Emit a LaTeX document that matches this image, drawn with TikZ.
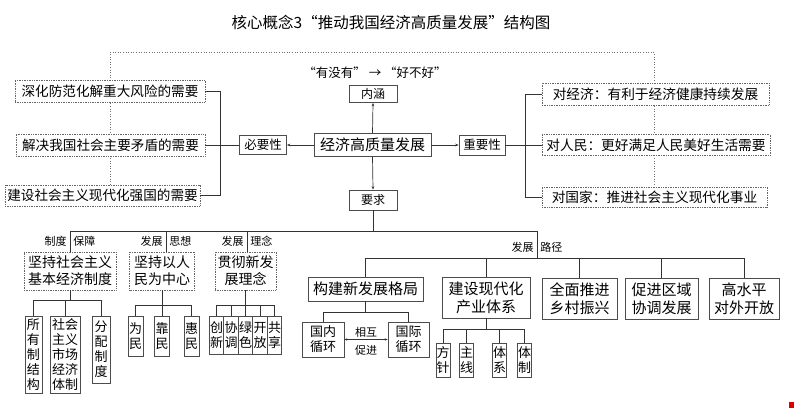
\documentclass[tikz,border=0pt]{standalone}
\usepackage{fontspec}
\setmainfont{Noto Sans CJK SC}
\usetikzlibrary{arrows.meta,backgrounds,calc}
\newcommand{\tsize}[2]{\fontsize{#1}{#2}\selectfont}
\tikzset{
  dbox/.style={draw=black!60,densely dotted,line width=0.7pt,fill=white,inner sep=0pt,align=center},
  sbox/.style={draw=black!70,line width=0.7pt,fill=white,inner sep=0pt,align=center},
  link/.style={draw=black!80,line width=0.7pt},
  arr/.style={link,-{Stealth[length=3.5pt,width=2.6pt]}},
  tag/.style={font=\tsize{11}{12},inner xsep=3pt,inner ysep=1.5pt},
  vtext/.style={font=\tsize{13}{15}},
}
\begin{document}
\begin{tikzpicture}[x=1pt,y=-1pt]
\useasboundingbox (0,0) rectangle (794,408);
\node[font=\tsize{15.5}{18}] (title) at (391,22) {核心概念3“推动我国经济高质量发展”结构图};
% centre
\node[sbox,font=\tsize{15}{18},minimum width=117pt,minimum height=23pt] (main) at (372.5,145) {经济高质量发展};
\node[font=\tsize{12.5}{14}] (change) at (375,73) {“有没有” → “好不好”};
\node[sbox,font=\tsize{12}{14},minimum width=48pt,minimum height=17pt] (neihan) at (373,94) {内涵};
\node[sbox,font=\tsize{12}{14},minimum width=48pt,minimum height=20pt] (yaoqiu) at (373,200) {要求};
\node[sbox,font=\tsize{12.5}{14},minimum width=47pt,minimum height=19pt] (biyao) at (263,145) {必要性};
\node[sbox,font=\tsize{12.5}{14},minimum width=46pt,minimum height=20pt] (zhongyao) at (482,145) {重要性};
% necessity
\node[dbox,font=\tsize{13.6}{16},minimum width=190pt,minimum height=22pt] (need1) at (110,91) {深化防范化解重大风险的需要};
\node[dbox,font=\tsize{13.6}{16},minimum width=189pt,minimum height=22pt] (need2) at (110.5,145) {解决我国社会主要矛盾的需要};
\node[dbox,font=\tsize{13.6}{16},minimum width=195pt,minimum height=21pt] (need3) at (102.5,195.5) {建设社会主义现代化强国的需要};
% importance
\node[dbox,font=\tsize{13.7}{16},minimum width=227pt,minimum height=22pt] (eco) at (655.5,94) {对经济：有利于经济健康持续发展};
\node[dbox,font=\tsize{13.7}{16},minimum width=228pt,minimum height=21pt] (ppl) at (656,145) {对人民：更好满足人民美好生活需要};
\node[dbox,font=\tsize{13.7}{16},minimum width=225pt,minimum height=20pt] (nat) at (654.5,197) {对国家：推进社会主义现代化事业};
\coordinate (lbrk) at (220,0);
\coordinate (rbrk) at (525,0);
\coordinate (dl) at (110,52);
\coordinate (dr) at (654,52);
\draw[link] (need1.east) -| (need3.east -| lbrk) -- (need3.east);
\draw[link] (need2.east) -- (biyao.west);
\draw[arr] (main.west) -- (biyao.east);
\draw[arr] (main.east) -- (zhongyao.west);
\draw[arr] (main.north) -- (neihan.south);
\draw[arr] (main.south) -- (yaoqiu.north);
\draw[link] (zhongyao.east) -- (ppl.west);
\draw[link] (eco.west) -| (nat.west -| rbrk) -- (nat.west);
\begin{scope}[on background layer]
\draw[black!55,dotted,line width=0.6pt] (need3.north -| dl) -- (dl) -- (dr) -- (nat.north -| dr);
\end{scope}
% requirements
\node[dbox,font=\tsize{14}{17},minimum width=92pt,minimum height=38pt] (sys) at (70,271) {坚持社会主义\\基本经济制度};
\node[dbox,font=\tsize{14}{17},minimum width=65pt,minimum height=38pt] (people) at (162,271) {坚持以人\\民为中心};
\node[dbox,font=\tsize{14}{17},minimum width=61pt,minimum height=38pt] (idea) at (245.5,271) {贯彻新发\\展理念};
\node[sbox,font=\tsize{15}{18},minimum width=115pt,minimum height=24pt] (pattern) at (365.5,289) {构建新发展格局};
\node[sbox,font=\tsize{15}{18},minimum width=88pt,minimum height=41pt] (industry) at (486,297.5) {建设现代化\\产业体系};
\node[sbox,font=\tsize{15}{18},minimum width=75pt,minimum height=41pt] (rural) at (579.5,298.5) {全面推进\\乡村振兴};
\node[sbox,font=\tsize{15}{18},minimum width=73pt,minimum height=41pt] (region) at (661.5,298.5) {促进区域\\协调发展};
\node[sbox,font=\tsize{15}{18},minimum width=70pt,minimum height=41pt] (open) at (744,298.5) {高水平\\对外开放};
\coordinate (bus) at (0,231);
\coordinate (bus2) at (0,258);
\coordinate (knee) at (537,231);
\draw[link] (yaoqiu.south) -- (yaoqiu.south |- bus);
\draw[link] (sys.north) -- (sys.north |- bus) node[tag,midway,left]{制度} node[tag,midway,right]{保障}
  -- (knee) -- (knee |- bus2) node[tag,pos=0.6,left]{发展} node[tag,pos=0.6,right]{路径};
\draw[link] ($(people.north)+(4,0)$) -- ++(0,-21) node[tag,midway,left]{发展} node[tag,midway,right]{思想};
\draw[link] ($(idea.north)+(1.5,0)$) -- ++(0,-21) node[tag,midway,left]{发展} node[tag,midway,right]{理念};
\draw[link] (pattern.north) |- (open.north |- bus2) -- (open.north);
\draw[link] (industry.north) -- (industry.north |- bus2);
\draw[link] (rural.north) -- (rural.north |- bus2);
\draw[link] (region.north) -- (region.north |- bus2);
% leaves
\node[sbox,vtext,minimum width=17pt,minimum height=77pt] (own) at (33.5,354.5) {所\\有\\制\\结\\构};
\node[sbox,vtext,minimum width=30pt,minimum height=77pt] (market) at (65,354.5) {社会\\主义\\市场\\经济\\体制};
\node[sbox,vtext,minimum width=18pt,minimum height=67pt] (distr) at (101,349.5) {分\\配\\制\\度};
\foreach \n/\x/\a/\b in {1/135.5/为/民,2/162/靠/民,3/191.5/惠/民}
  \node[sbox,vtext,minimum width=15pt,minimum height=40pt] (min\n) at (\x,336) {\a\\\b};
\foreach \n/\a/\b in {1/创/新,2/协/调,3/绿/色,4/开/放,5/共/享}
  \node[sbox,vtext,minimum width=14.5pt,minimum height=38pt] (idea\n) at ({202.05+14.5*\n},335) {\a\\\b};
\node[sbox,vtext,minimum width=42pt,minimum height=35pt] (dom) at (323,339.5) {国内\\循环};
\node[sbox,vtext,minimum width=41pt,minimum height=35pt] (intl) at (408.5,339.5) {国际\\循环};
\foreach \n/\x/\a/\b in {1/443/方/针,2/466.5/主/线,3/499.7/体/系,4/524.7/体/制}
  \node[sbox,vtext,minimum width=14pt,minimum height=34pt] (ind\n) at (\x,360) {\a\\\b};
% forks
\draw[link] (sys.south) -- ++(0,10) coordinate (sysfork);
\draw[link] (own.north) |- (sysfork) -| (distr.north);
\draw[link] (market.north) -- (market.north |- sysfork);
\draw[link] (people.south) -- ++(0,15) coordinate (pfork);
\draw[link] (min1.north) |- (pfork) -| (min3.north);
\draw[link] (min2.north) -- (min2.north |- pfork);
\draw[link] (idea.south) -- ++(0,15) coordinate (ifork);
\draw[link] (idea1.north) |- (ifork) -| (idea5.north);
\foreach \n in {2,3,4}
  \draw[link] (idea\n.north) -- (idea\n.north |- ifork);
\draw[link] (pattern.south) -- ++(0,11) coordinate (gfork);
\draw[link] (dom.north) |- (gfork) -| (intl.north);
\draw[link,{Stealth[length=3pt,width=2.4pt]}-{Stealth[length=3pt,width=2.4pt]}] (dom.east) -- (intl.west)
  node[tag,midway,above]{相互} node[tag,midway,below=4pt]{促进};
\draw[link] (industry.south) -- ++(0,11) coordinate (nfork);
\draw[link] (ind1.north) |- (nfork) -| (ind4.north);
\foreach \n in {2,3}
  \draw[link] (ind\n.north) -- (ind\n.north |- nfork);
\fill[red!85!black] (789,402) rectangle (794,408);
\end{tikzpicture}
\end{document}
